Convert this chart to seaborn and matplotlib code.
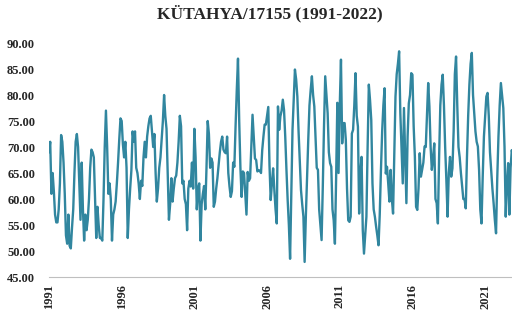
import numpy as np
import pandas as pd
import matplotlib
matplotlib.use("Agg")
import matplotlib.pyplot as plt
import seaborn as sns

title = "KÜTAHYA/17155 (1991-2022)"
years = list(range(1991, 2023))
y_ticks = [45, 50, 55, 60, 65, 70, 75, 80, 85, 90]

y1991 = [69, 71, 61, 65, 61.5, 57, 55.5, 55.5, 58, 63, 72.3, 71]
y1992 = [67, 61, 53, 51.4, 57, 51, 50.5, 54.5, 58, 65, 71, 72.5]
y1993 = [70, 63, 56, 67, 58, 52, 57, 54, 56, 60, 66, 69.5]
y1994 = [69, 68, 60, 52.5, 58.5, 55, 52.5, 52.5, 52, 60, 70, 77]
y1995 = [70, 61, 63, 60, 52, 57, 58, 59.5, 63, 67, 71.5, 75.5]
y1996 = [75, 70.5, 68, 71, 66, 52.5, 58, 62, 65.5, 73, 71, 73]
y1997 = [66, 65, 63, 60, 63.5, 62.5, 68, 71, 68, 72, 74, 75.5]
y1998 = [76, 73, 70, 72.5, 65, 59.5, 62, 66, 68, 71.5, 75, 80]
y1999 = [76, 73.5, 65, 56, 59, 64, 59.5, 62, 64, 64.5, 67, 71]
y2000 = [76, 74, 63, 63.5, 60, 59, 54, 62, 63.5, 62.4, 67, 62]
y2001 = [73.5, 68, 58, 62, 63, 52, 59, 61, 62.5, 58, 66, 75]
y2002 = [72.5, 66, 67.8, 67, 58.5, 59.5, 62, 64, 66.5, 69, 71, 72]
y2003 = [69.5, 69, 68.8, 72, 65, 62.4, 60.4, 61.5, 67, 66.2, 74, 81]
y2004 = [87, 75, 66, 60.4, 65.3, 65, 61, 57, 65.2, 63.5, 64, 70]
y2005 = [76.2, 72, 67.8, 67.5, 65.3, 65.5, 65.5, 65, 69.4, 72, 74.3, 74.3]
y2006 = [76, 77.7, 66.5, 59.8, 63, 65.9, 61.7, 58, 55.3, 77.8, 73.3, 75.9]
y2007 = [77, 79.1, 77.1, 72, 65.6, 59.8, 55, 48.5, 61, 73.3, 79, 84.9]
y2008 = [83, 79.7, 73, 67.5, 61.7, 59, 56.6, 47.9, 56.6, 64, 71.4, 78]
y2009 = [81, 83.6, 80, 77.8, 72, 66, 65.6, 58, 55, 52.1, 62.4, 74]
y2010 = [83.6, 80, 76.5, 69, 66.9, 66.2, 58, 55.9, 51.4, 64, 78.5, 65]
y2011 = [78, 86.8, 70.7, 74.6, 74.6, 71.4, 62, 55.9, 55.6, 56.6, 72.6, 73.3]
y2012 = [78, 84.2, 76, 73.9, 57.2, 65, 68.1, 54, 49.5, 53, 56.6, 70]
y2013 = [82, 79, 75.2, 63, 58, 56.6, 54.7, 53, 51.1, 57, 65.6, 73]
y2014 = [78, 81.3, 64.9, 66.2, 63, 59.5, 65.6, 60, 57.2, 68, 79.7, 84]
y2015 = [86, 88.4, 76.5, 70, 63, 77.5, 68, 59.2, 72, 78.4, 80, 84.2]
y2016 = [83.9, 74, 68.1, 58.5, 57.9, 62, 68.8, 64.3, 65.6, 67, 70.1, 70]
y2017 = [76, 82.3, 77.8, 70, 65.6, 67.8, 70.7, 60, 59.2, 55.3, 68, 78]
y2018 = [82, 83.9, 78, 70, 63.6, 56.6, 65, 68.1, 64.3, 65.9, 73, 84]
y2019 = [87.4, 78, 70, 68, 65, 62.4, 60, 60, 58.2, 68, 76, 82]
y2020 = [86, 88.1, 80, 76.5, 73, 71, 70.1, 65.6, 58, 55.3, 64.3, 72]
y2021 = [76, 79.7, 80.4, 76, 69, 65.6, 62, 59.2, 56, 53.4, 64, 72]
y2022 = [78, 82.3, 80, 77.5, 70, 56.6, 63, 66.9, 57, 66, 69.4, 68]

yearly = [y1991, y1992, y1993, y1994, y1995, y1996, y1997, y1998, y1999, y2000,
          y2001, y2002, y2003, y2004, y2005, y2006, y2007, y2008, y2009, y2010,
          y2011, y2012, y2013, y2014, y2015, y2016, y2017, y2018, y2019, y2020,
          y2021, y2022]
values = [v for yr in yearly for v in yr]
df = pd.DataFrame({"t": np.arange(len(values)), "v": values})

sns.set_theme(style="white")
plt.rcParams["font.family"] = ["Liberation Serif", "DejaVu Serif"]

fig = plt.figure(figsize=(5.12, 3.15), dpi=100)
ax = fig.add_axes([49/512, 38/315, 464/512, 234/315])
sns.lineplot(data=df, x="t", y="v", ax=ax, color="#31869F", linewidth=1.7)

ax.set_xlim(0, len(values) - 1)
ax.set_ylim(45, 90)
ax.set_yticks(y_ticks)
ax.set_yticklabels([f"{t:.2f}" for t in y_ticks], fontsize=9, fontweight="bold")
xt = np.arange(0, len(values), 12)
ax.set_xticks(xt)
ax.set_xticklabels([str(y) if (y - 1991) % 5 == 0 else "" for y in years],
                   rotation=90, fontsize=9, fontweight="bold")
ax.set_xlabel("")
ax.set_ylabel("")
for s in ["top", "right", "left"]:
    ax.spines[s].set_visible(False)
ax.spines["bottom"].set_color("#bfbfbf")
ax.spines["bottom"].set_linewidth(0.8)
ax.tick_params(axis="x", direction="out", length=3, width=0.8, color="#bfbfbf", pad=2)
ax.tick_params(axis="y", length=0, pad=10)
ax.grid(False)
fig.text(0.527, 0.958, title, ha="center", va="center", fontsize=12.5, fontweight="bold")
fig.savefig("out.png", dpi=100)
